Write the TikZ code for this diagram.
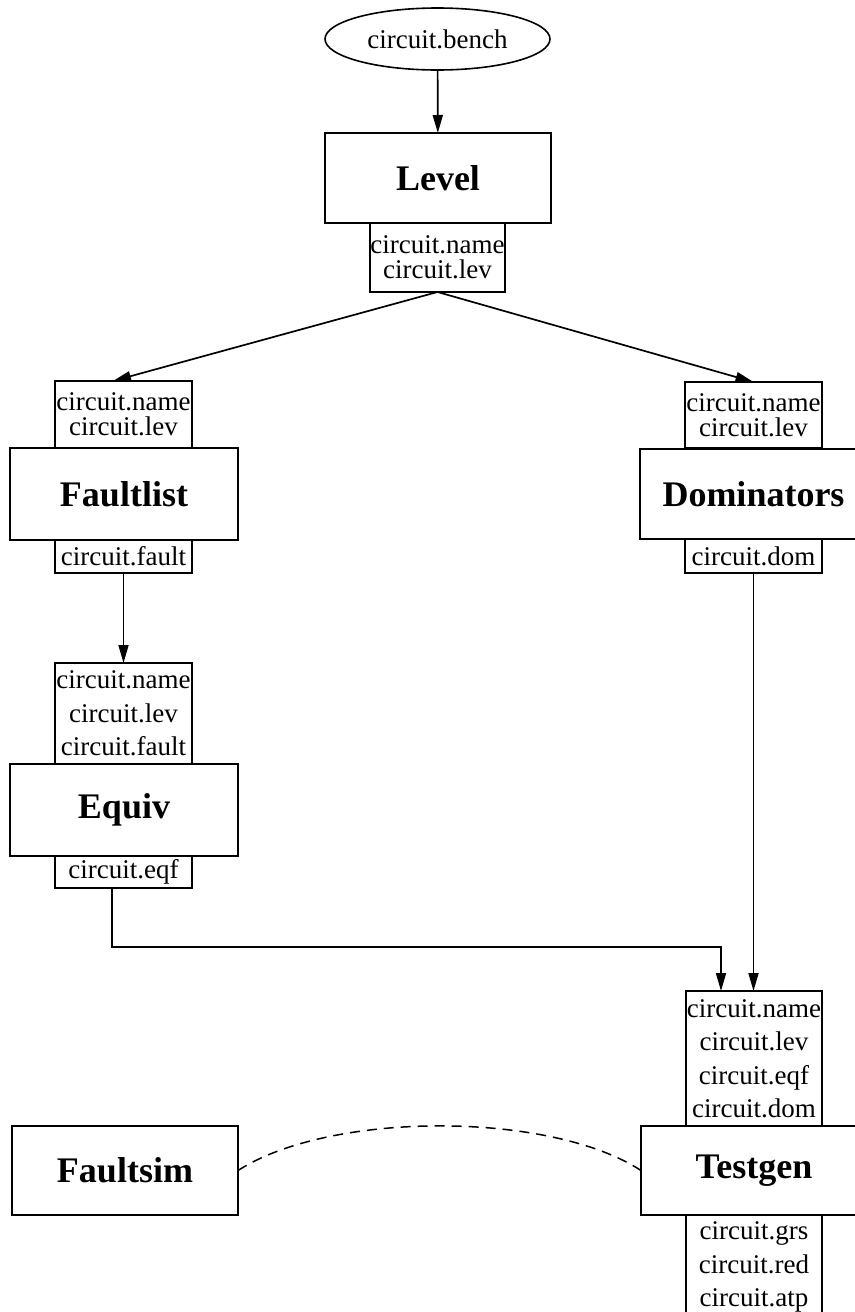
\documentclass[tikz,border=0pt]{standalone}
\usepackage{fontspec}
\setmainfont{Liberation Serif}
\usetikzlibrary{arrows.meta,shapes.geometric}
\begin{document}
\begin{tikzpicture}[x=0.5pt,y=-0.5pt,
  every node/.style={inner sep=0pt, outer sep=0pt},
  box/.style={draw, line width=0.8pt, rectangle, fill=white},
  big/.style={box, font=\fontsize{18}{20}\selectfont\bfseries},
  io/.style={box, font=\fontsize{13.5}{12.5}\selectfont, align=center},
  iol/.style={box, font=\fontsize{13.5}{16.75}\selectfont, align=center},
  arr/.style={-{Triangle[length=9pt,width=5pt]}, line width=0.85pt},
  dashcurve/.style={line width=0.75pt, dash pattern=on 5pt off 3.5pt},
]
\useasboundingbox (0,0) rectangle (855,1312);
\clip (0,0) rectangle (855,1312);

% top
\node[box, ellipse, minimum width=112.5pt, minimum height=31pt,
      font=\fontsize{13.5}{16}\selectfont] (bench) at (437.5,39) {circuit.bench};
\node[big, minimum width=113pt, minimum height=45pt] (level) at (438,178) {Level};
\node[io, minimum width=67.5pt, minimum height=34.5pt] (levout) at (437.5,257.5) {circuit.name\\circuit.lev};

% Faultlist
\node[io, minimum width=68.5pt, minimum height=33.5pt] (flin) at (123.5,414.5) {circuit.name\\circuit.lev};
\node[big, minimum width=114pt, minimum height=46pt] (fl) at (124,494) {Faultlist};
\node[io, minimum width=68.5pt, minimum height=16.5pt] (flout) at (123.5,556.5) {circuit.fault};

% Equiv
\node[iol, minimum width=68.5pt, minimum height=50.5pt] (eqin) at (123.5,713.5) {circuit.name\\circuit.lev\\circuit.fault};
\node[big, minimum width=114pt, minimum height=46pt] (eq) at (124,810) {Equiv};
\node[io, minimum width=68.5pt, minimum height=16pt] (eqout) at (123.5,872) {circuit.eqf};

% Dominators
\node[io, minimum width=68.5pt, minimum height=33pt] (domin) at (753.5,415) {circuit.name\\circuit.lev};
\node[big, minimum width=113.5pt, minimum height=45pt] (dom) at (753.5,494) {Dominators};
\node[io, minimum width=68.5pt, minimum height=17pt] (domout) at (753.5,556) {circuit.dom};

% Testgen
\node[iol, minimum width=68pt, minimum height=67.5pt] (tgin) at (754,1058.5) {circuit.name\\circuit.lev\\circuit.eqf\\circuit.dom};
\node[big, minimum width=113pt, minimum height=44.5pt] (tg) at (754,1170.5) {Testgen};
\node[iol, minimum width=68pt, minimum height=52pt] (tgout) at (754,1267) {circuit.grs\\circuit.red\\circuit.atp};

% Faultsim
\node[big, minimum width=113pt, minimum height=44.5pt] (fs) at (125,1170.5) {Faultsim};

% connectors
\draw[arr] (bench) -- (level);
\draw[arr] (levout.south) -- ([xshift=-5.25pt]flin.north);
\draw[arr] (levout.south) -- (domin.north);
\draw[arr] (flout) -- (eqin);
\coordinate (bend) at (721,947);
\draw[arr] ([xshift=-5.75pt]eqout.south) |- (bend) -- ([xshift=-16.5pt]tgin.north);
\draw[arr] (domout.south) -- (domout.south |- tgin.north);
\draw[dashcurve] (fs.east) .. controls (330,1111) and (550,1111) .. (tg.west);
\end{tikzpicture}
\end{document}
